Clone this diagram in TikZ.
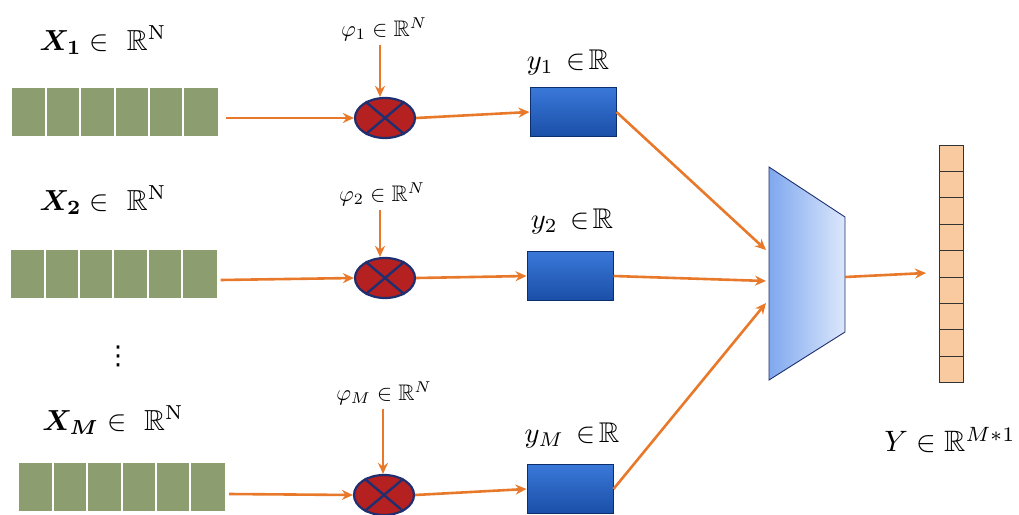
\documentclass[tikz,border=0pt]{standalone}
\usepackage{amsmath,amssymb,bm}
\usepackage{fontspec}
\newfontfamily\dejavu{DejaVu Sans}
\usetikzlibrary{shapes.geometric,arrows.meta}
\definecolor{bargreen}{HTML}{8C9E70}
\definecolor{arr}{HTML}{E8792B}
\definecolor{navy}{HTML}{1F2F6F}
\definecolor{mulred}{HTML}{B52020}
\definecolor{boxtop}{HTML}{3A78D8}
\definecolor{boxbot}{HTML}{1A4FA8}
\definecolor{boxedge}{HTML}{0D2E6E}
\definecolor{peach}{HTML}{F9C9A0}
\definecolor{trapL}{HTML}{7FA8EF}
\definecolor{trapR}{HTML}{DCE7FB}
\newcommand{\bigL}[1]{\scalebox{2.9}{#1}}
\newcommand{\phiL}[1]{\scalebox{2.25}{#1}}
\newcommand{\yL}[1]{\scalebox{2.85}{#1}}
\newcommand{\YL}[1]{\scalebox{2.95}{#1}}
\tikzset{
  bar/.style={fill=bargreen, draw=none, minimum width=206pt, minimum height=48pt, inner sep=0pt},
  mult/.style={ellipse, fill=mulred, draw=navy, line width=2.2pt, minimum width=60pt, minimum height=40pt, inner sep=0pt},
  ybox/.style={rectangle, top color=boxtop, bottom color=boxbot, draw=boxedge, line width=1pt, minimum width=86pt, minimum height=49pt, inner sep=0pt},
  conn/.style={draw=arr, line width=2.6pt, -{Stealth[length=11pt,width=10pt]}},
  cell/.style={rectangle, fill=peach, draw=black!80, line width=0.8pt, minimum width=24pt, minimum height=26.4pt, inner sep=0pt},
  lab/.style={inner sep=0pt},
}
\begin{document}
\begin{tikzpicture}[x=1pt,y=-1pt]
\useasboundingbox (0,0) rectangle (1019,514);
% input bars
\node[bar] (b1) at (115,112) {};
\node[bar] (b2) at (113.5,274) {};
\node[bar] (bM) at (122,487) {};
\foreach \b in {b1,b2,bM}{
  \foreach \i in {1,...,5}{
    \draw[white, line width=2pt] ([xshift=\i*34.33pt]\b.north west) -- ([xshift=\i*34.33pt]\b.south west);
  }
}
% labels
\node[lab] (lx1) at (103,40) {\bigL{$\boldsymbol{X_1}\in\ \mathbb{R}^{\mathrm{N}}$}};
\node[lab] (lx2) at (103,200) {\bigL{$\boldsymbol{X_2}\in\ \mathbb{R}^{\mathrm{N}}$}};
\node[lab] (lxM) at (113,420) {\bigL{$\boldsymbol{X_M}\in\ \mathbb{R}^{\mathrm{N}}$}};
\node[lab, font=\dejavu\fontsize{26}{28}\selectfont] (dots) at (118,356) {⋮};
% multipliers
\node[mult] (m1) at (385,118) {};
\node[mult] (m2) at (385,278) {};
\node[mult] (mM) at (384,495) {};
\foreach \m in {m1,m2,mM}{
  \draw[navy, line width=2.4pt] (\m.40) -- (\m.220);
  \draw[navy, line width=2.4pt] (\m.140) -- (\m.320);
}
\node[lab] (p1) at (384,29) {\phiL{$\varphi_1\in\mathbb{R}^N$}};
\node[lab] (p2) at (382,194) {\phiL{$\varphi_2\in\mathbb{R}^N$}};
\node[lab] (pM) at (384,393) {\phiL{$\varphi_M\in\mathbb{R}^N$}};
% y boxes
\node[ybox] (y1) at (573,112) {};
\node[ybox] (y2) at (570,276) {};
\node[ybox] (yM) at (570,489) {};
\node[lab] (ly1) at (568,62) {\yL{$y_1\,\in\!\mathbb{R}$}};
\node[lab] (ly2) at (572,221) {\yL{$y_2\,\in\!\mathbb{R}$}};
\node[lab] (lyM) at (572,435) {\yL{$y_M\,\in\!\mathbb{R}$}};
% trapezoid
\coordinate (tTL) at (769,167);
\coordinate (tBL) at (769,380);
\coordinate (tTR) at (845,217);
\coordinate (tBR) at (845,332);
\shade[left color=trapL, right color=trapR] (tTL) -- (tTR) -- (tBR) -- (tBL) -- cycle;
\draw[navy, line width=0.9pt] (tTL) -- (tTR) -- (tBR) -- (tBL) -- cycle;
\coordinate (in1) at (766,250);
\coordinate (in2) at (766,281);
\coordinate (in3) at (766,303);
\coordinate (tout) at (845,277);
% output column
\foreach \k in {1,...,9}{
  \node[cell] (c\k) at (951,{145+(\k-0.5)*26.4}) {};
}
\node[lab] (lY) at (950,440) {\YL{$Y\in\mathbb{R}^{M*1}$}};
\coordinate (cin) at (926,273);
% connectors
\draw[conn] ([xshift=8pt,yshift=-6pt]b1.east) -- (m1.west);
\draw[conn] ([xshift=4pt,yshift=-6pt]b2.east) -- (m2.west);
\draw[conn] ([xshift=4pt,yshift=-7pt]bM.east) -- (mM.west);
\draw[conn] ([xshift=-4pt,yshift=-4pt]p1.south) -- ([xshift=-5pt]m1.north);
\draw[conn] ([xshift=-2pt,yshift=-4pt]p2.south) -- ([xshift=-5pt]m2.north);
\draw[conn] ([xshift=-1pt,yshift=-4pt]pM.south) -- ([xshift=-1pt]mM.north);
\draw[conn] (m1.east) -- (y1.west);
\draw[conn] (m2.east) -- (y2.west);
\draw[conn] (mM.east) -- (yM.west);
\draw[conn] (y1.east) -- (in1);
\draw[conn] (y2.east) -- (in2);
\draw[conn] (yM.east) -- (in3);
\draw[conn] (tout) -- (cin);
\end{tikzpicture}
\end{document}
